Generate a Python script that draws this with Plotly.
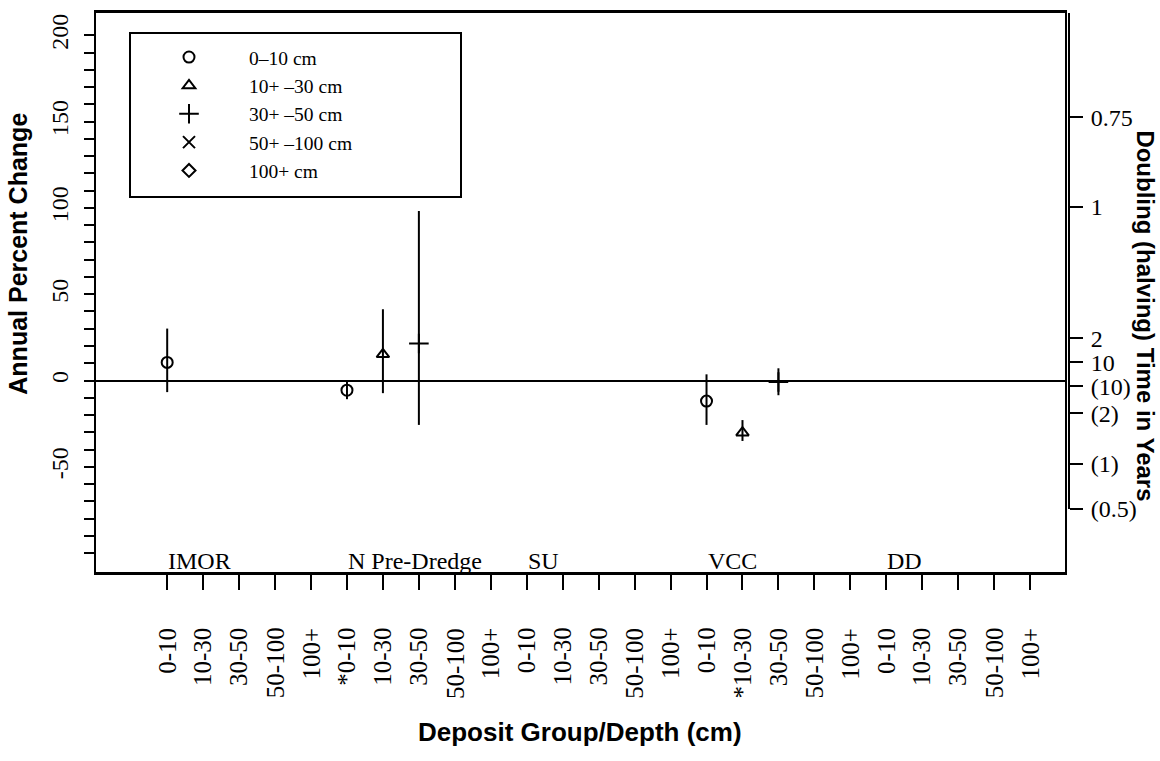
import plotly.graph_objects as go

# ---------------- data ----------------
groups = ["IMOR", "N Pre-Dredge", "SU", "VCC", "DD"]
group_first_pos = [1, 6, 11, 16, 21]
tick_labels = ["0-10", "10-30", "30-50", "50-100", "100+",
               "*0-10", "10-30", "30-50", "50-100", "100+",
               "0-10", "10-30", "30-50", "50-100", "100+",
               "0-10", "*10-30", "30-50", "50-100", "100+",
               "0-10", "10-30", "30-50", "50-100", "100+"]
tick_pos = list(range(1, 26))

series_names = ["0\u201310 cm", "10+ \u201330 cm", "30+ \u201350 cm", "50+ \u2013100 cm", "100+ cm"]

s0_x = [1, 6, 16]
s0_y = [10.5, -5.6, -11.9]
s0_hi = [30.1, -0.4, 3.6]
s0_lo = [-6.7, -10.8, -25.7]

s1_x = [7, 17]
s1_y = [15.2, -30.2]
s1_hi = [41.3, -22.9]
s1_lo = [-7.3, -35.0]

s2_x = [8, 18]
s2_y = [21.5, -0.8]
s2_hi = [98.2, 7.1]
s2_lo = [-25.7, -8.5]

s3_x, s3_y, s3_hi, s3_lo = [], [], [], []
s4_x, s4_y, s4_hi, s4_lo = [], [], [], []

left_tick_vals = [-100, -90, -80, -70, -60, -50, -40, -30, -20, -10, 0, 10, 20, 30, 40,
                  50, 60, 70, 80, 90, 100, 110, 120, 130, 140, 150, 160, 170, 180, 190, 200]
left_tick_text = ["", "", "", "", "", "-50", "", "", "", "", "0", "", "", "", "",
                  "50", "", "", "", "", "100", "", "", "", "", "150", "", "", "", "", "200"]

right_tick_vals = [152.4, 100.5, 24.4, 10.5, -3.3, -18.9, -48.3, -74.2]
right_tick_text = ["0.75", "1", "2", "10", "(10)", "(2)", "(1)", "(0.5)"]

# ---------------- layout constants ----------------
W, H = 1160, 761
ML, MT = 96, 10
MR = W - 1069
MB = H - 572
PW = W - ML - MR
PH = H - MT - MB
X_RANGE = [-0.98, 25.97]
Y_RANGE = [-110.9, 212.9]
Y2_LO = -74.3
y2_dom_lo = (Y2_LO - Y_RANGE[0]) / (Y_RANGE[1] - Y_RANGE[0])
x_dom_hi = (1065 - ML) / PW

SERIF = "Liberation Serif, Times New Roman, serif"
SANS = "Liberation Sans, Arial, sans-serif"
XTICK_SIZE = 25
# approximate Times/Liberation Serif advance widths (em)
CHAR_EM = {"-": 0.333, "+": 0.564, "*": 0.5}


def px_x(p):
    return (p - ML) / PW


def px_y(p):
    return (H - MB - p) / PH


def text_len(s, size):
    return sum(CHAR_EM.get(c, 0.5) for c in s) * size


fig = go.Figure()

series = [
    (series_names[0], "circle-open", 11, s0_x, s0_y, s0_hi, s0_lo),
    (series_names[1], "triangle-up-open", 11, s1_x, s1_y, s1_hi, s1_lo),
    (series_names[2], "cross-thin-open", 14, s2_x, s2_y, s2_hi, s2_lo),
    (series_names[3], "x-thin-open", 12, s3_x, s3_y, s3_hi, s3_lo),
    (series_names[4], "diamond-open", 10, s4_x, s4_y, s4_hi, s4_lo),
]

for name, sym, size, xs, ys, his, los in series:
    fig.add_trace(go.Scatter(
        x=xs if xs else [None], y=ys if ys else [None], mode="markers", name=name,
        marker=dict(symbol=sym, size=size, color="black", line=dict(width=2, color="black")),
        error_y=dict(type="data", symmetric=False,
                     array=[h - v for h, v in zip(his, ys)],
                     arrayminus=[v - l for v, l in zip(ys, los)],
                     width=0, thickness=2, color="black"),
        xaxis="x", yaxis="y",
    ))

# dummy trace to create the right-hand axis
fig.add_trace(go.Scatter(x=[None], y=[None], xaxis="x", yaxis="y2",
                         showlegend=False, hoverinfo="skip", mode="markers"))

# x tick labels (rotated, end of text aligned near the axis)
for lab, p in zip(tick_labels, tick_pos):
    fig.add_annotation(x=p, y=px_y(628), xref="x", yref="paper", text=lab,
                       textangle=-90, showarrow=False, xanchor="center", yanchor="middle",
                       yshift=-text_len(lab, XTICK_SIZE) / 2, borderpad=0,
                       font=dict(family=SERIF, size=XTICK_SIZE, color="black"))

# group labels
for g, p in zip(groups, group_first_pos):
    fig.add_annotation(x=p, y=0, xref="x", yref="paper", text=g, showarrow=False,
                       xanchor="left", yanchor="bottom", xshift=-1, yshift=-4,
                       font=dict(family=SERIF, size=24, color="black"))

# titles
fig.add_annotation(x=px_x(18), y=px_y(252), xref="paper", yref="paper",
                   xanchor="center", yanchor="middle",
                   text="<b>Annual Percent Change</b>", textangle=-90, showarrow=False,
                   font=dict(family=SANS, size=25, color="black"))
fig.add_annotation(x=px_x(1146), y=px_y(314), xref="paper", yref="paper",
                   xanchor="center", yanchor="middle",
                   text="<b>Doubling (halving) Time in Years</b>", textangle=90, showarrow=False,
                   font=dict(family=SANS, size=24, color="black"))
fig.add_annotation(x=px_x(580), y=px_y(733), xref="paper", yref="paper",
                   xanchor="center", yanchor="middle",
                   text="<b>Deposit Group/Depth (cm)</b>", showarrow=False,
                   font=dict(family=SANS, size=26, color="black"))

# legend box
fig.add_shape(type="rect", xref="paper", yref="paper",
              x0=px_x(130), x1=px_x(461), y0=px_y(195), y1=px_y(30),
              line=dict(color="black", width=2), fillcolor="rgba(0,0,0,0)")

fig.update_layout(
    width=W, height=H,
    margin=dict(l=ML, r=MR, t=MT, b=MB, pad=0),
    paper_bgcolor="white", plot_bgcolor="rgba(0,0,0,0)",
    showlegend=True,
    legend=dict(x=px_x(129), y=px_y(35), xanchor="left", yanchor="top",
                bgcolor="rgba(0,0,0,0)", borderwidth=0, itemwidth=110,
                font=dict(family=SERIF, size=19.5, color="black")),
    xaxis=dict(domain=[0, x_dom_hi], range=X_RANGE, tickmode="array",
               tickvals=tick_pos, showticklabels=False,
               ticks="outside", ticklen=15, tickwidth=2, tickcolor="black",
               showline=True, linewidth=3, linecolor="black", mirror=True,
               showgrid=False, zeroline=False, anchor="y"),
    yaxis=dict(domain=[0, 1], range=Y_RANGE, tickmode="array",
               tickvals=left_tick_vals, ticktext=left_tick_text, tickangle=-90,
               ticks="outside", ticklen=10, tickwidth=2, tickcolor="black",
               ticklabelstandoff=6,
               showline=True, linewidth=2, linecolor="black", mirror=True,
               showgrid=False, zeroline=True, zerolinecolor="black", zerolinewidth=2,
               tickfont=dict(family=SERIF, size=24, color="black"), anchor="x"),
    yaxis2=dict(domain=[y2_dom_lo, 1], range=[Y2_LO, Y_RANGE[1]], tickmode="array",
                tickvals=right_tick_vals, ticktext=right_tick_text,
                side="right", anchor="free", position=1.0,
                ticks="outside", ticklen=13, tickwidth=2, tickcolor="black",
                ticklabelstandoff=3,
                showline=True, linewidth=2, linecolor="black",
                showgrid=False, zeroline=False,
                tickfont=dict(family=SERIF, size=24, color="black")),
)

fig.write_html("out.html", config={"displayModeBar": False},
               post_script="document.body.style.margin='0';document.body.style.overflow='hidden';")
